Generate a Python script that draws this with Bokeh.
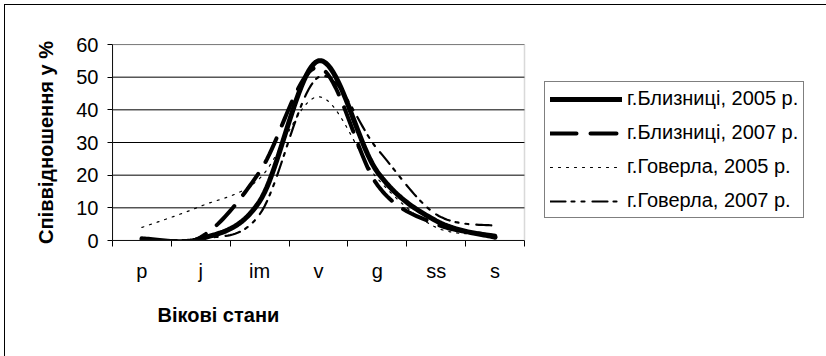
import numpy as np
from bokeh.plotting import figure
from bokeh.models import (Range1d, FixedTicker, Legend, LegendItem, LinearAxis, BoxAnnotation, Title)
from bokeh.embed import file_html
from bokeh.resources import INLINE

# ---- data ----
categories = ["p", "j", "im", "v", "g", "ss", "s"]
y_ticks = [0, 10, 20, 30, 40, 50, 60]
blyzn_2005 = [0.5, 0.5, 12, 55, 21, 6, 1]
blyzn_2007 = [0, 1, 21, 53, 17, 5, 1.5]
hover_2005 = [4, 10.5, 19, 44, 19, 4, 2]
hover_2007 = [0, 0.5, 8, 50, 28, 8, 4.5]
series_names = ["г.Близниці, 2005 р.", "г.Близниці, 2007 р.",
                "г.Говерла, 2005 р.", "г.Говерла, 2007 р."]
x_title = "Вікові стани"
y_title = "Співвідношення у %"

FONT = "Liberation Sans"

# layout (pixels)
W, H = 826, 356
PLOT_L, PLOT_R, PLOT_T, PLOT_B = 112, 524, 44, 240


def smooth(xs, ys, n=24):
    """Excel-style smoothed line (Bezier with Catmull-Rom tangents)."""
    P = np.column_stack([np.asarray(xs, float), np.asarray(ys, float)])
    out = []
    m = len(P)
    for i in range(m - 1):
        p0 = P[i - 1] if i > 0 else P[i]
        p1 = P[i]
        p2 = P[i + 1]
        p3 = P[i + 2] if i + 2 < m else P[i + 1]
        c1 = p1 + (p2 - p0) / 6.0
        c2 = p2 - (p3 - p1) / 6.0
        t = np.linspace(0, 1, n, endpoint=(i == m - 2))[:, None]
        seg = ((1 - t) ** 3) * p1 + 3 * ((1 - t) ** 2) * t * c1 + 3 * (1 - t) * t ** 2 * c2 + t ** 3 * p2
        out.append(seg)
    pts = np.vstack(out)
    return pts[:, 0], pts[:, 1]


ncat = len(categories)
xpos = np.arange(ncat) + 0.5
# the frame extends to the right edge so the legend can sit beside the plot area
x_end = ncat * (W - PLOT_L) / (PLOT_R - PLOT_L)

p = figure(width=W, height=H, output_backend="svg", toolbar_location=None,
           x_range=Range1d(0, x_end), y_range=Range1d(0, 60),
           min_border_left=PLOT_L, min_border_right=0, min_border_top=PLOT_T,
           min_border_bottom=H - PLOT_B, x_axis_type=None, y_axis_type=None)
p.background_fill_color = "white"
p.border_fill_alpha = 0
p.outline_line_color = None
# outer chart-area border (top and left edges visible in the reference crop)
p.styles = {"background": "linear-gradient(#000,#000) 4px 4px / 1px 360px no-repeat, "
                          "linear-gradient(#000,#000) 4px 4px / 830px 1px no-repeat, #fff"}

# x axis: labels at category centres, tick marks at category boundaries
xaxis = LinearAxis(ticker=FixedTicker(ticks=list(xpos), minor_ticks=list(range(ncat + 1))),
                   bounds=(0, ncat))
xaxis.major_label_overrides = {float(x): c for x, c in zip(xpos, categories)}
xaxis.major_tick_out = 0
xaxis.major_tick_in = 0
xaxis.minor_tick_out = 6
xaxis.minor_tick_in = 0
xaxis.minor_tick_line_color = "black"
xaxis.axis_line_color = "black"
xaxis.major_label_text_font = FONT
xaxis.major_label_text_font_size = "20px"
xaxis.major_label_text_color = "black"
xaxis.major_label_standoff = 13
p.add_layout(xaxis, "below")

# x-axis title, centred under the plot area (not under the whole frame)
xt = Title(text=x_title, align="left", offset=45, standoff=34,
           text_font=FONT, text_font_size="20px", text_font_style="bold",
           text_color="black")
p.add_layout(xt, "below")

yaxis = LinearAxis(ticker=FixedTicker(ticks=y_ticks, minor_ticks=[]))
yaxis.major_tick_out = 5
yaxis.major_tick_in = 0
yaxis.minor_tick_out = 0
yaxis.axis_line_color = "black"
yaxis.major_tick_line_color = "black"
yaxis.major_label_text_font = FONT
yaxis.major_label_text_font_size = "20px"
yaxis.major_label_text_color = "black"
yaxis.major_label_standoff = 9
yaxis.axis_label = y_title
yaxis.axis_label_text_font = FONT
yaxis.axis_label_text_font_size = "20px"
yaxis.axis_label_text_font_style = "bold"
yaxis.axis_label_text_color = "black"
yaxis.axis_label_standoff = 16
p.add_layout(yaxis, "left")

# horizontal gridlines limited to the plot area
gy = y_ticks[1:]
p.segment(x0=[0] * len(gy), x1=[ncat] * len(gy), y0=gy, y1=gy,
          line_color="black", line_width=1)

# plot-area border (grey)
p.add_layout(BoxAnnotation(left=0, right=ncat, bottom=0, top=60, fill_alpha=0,
                           line_color="#808080", line_width=1.5))

styles = [
    dict(line_width=5, line_dash="solid"),
    dict(line_width=4, line_dash="26 14"),
    dict(line_width=1.2, line_dash="2 6"),
    dict(line_width=2.2, line_dash="15 6 3 7 3 8"),
]
renderers = []
for vals, st in zip([blyzn_2005, blyzn_2007, hover_2005, hover_2007], styles):
    sx, sy = smooth(xpos, vals)
    r = p.line(sx, sy, line_color="black", line_cap="round", line_join="round", **st)
    renderers.append(r)

legend = Legend(items=[LegendItem(label=n, renderers=[r]) for n, r in zip(series_names, renderers)],
                location=(544 - PLOT_L, PLOT_B - 218), margin=0)
legend.label_text_font = FONT
legend.label_text_font_size = "20px"
legend.label_text_color = "black"
legend.glyph_width = 72
legend.glyph_height = 20
legend.label_height = 20
legend.spacing = 11
legend.padding = 5
legend.label_standoff = 5
legend.border_line_color = "black"
legend.border_line_width = 1
legend.background_fill_color = "white"
legend.background_fill_alpha = 1
p.add_layout(legend)

open("out.html", "w").write(file_html(p, INLINE))
